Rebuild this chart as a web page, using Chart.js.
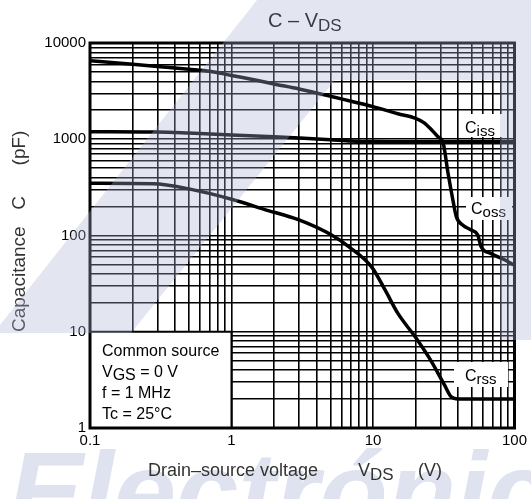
<!DOCTYPE html>
<html>
<head>
<meta charset="utf-8">
<script src="https://cdn.jsdelivr.net/npm/chart.js@4.4.1/dist/chart.umd.min.js"></script>
<style>
  html, body { margin: 0; padding: 0; background: #fff; }
  canvas { display: block; }
</style>
</head>
<body>
<canvas id="chart" width="531" height="499"></canvas>
<script>
var FONT = "'Liberation Sans', Arial, sans-serif";

// C - VDS curves
var cossVds = [0.1, 0.2, 0.3, 0.5, 0.7, 1, 1.5, 2, 3, 5, 7, 10, 15, 20, 23, 26, 28.8, 31.3, 33.9, 36.7, 38.8, 43.2, 49.4, 55, 58, 68, 85, 100];
var cossPf  = [6550, 6000, 5700, 5350, 5100, 4600, 4100, 3750, 3330, 2800, 2480, 2180, 1840, 1650, 1480, 1250, 1060, 920, 446, 234, 157, 128, 114, 101, 77, 65, 56, 49];

var cissVds = [0.1, 0.3, 0.5, 1, 2, 3, 5, 7, 10, 20, 50, 100];
var cissPf  = [1200, 1190, 1160, 1110, 1060, 1030, 990, 960, 945, 940, 940, 940];

var crssVds = [0.1, 0.28, 0.5, 1, 1.7, 3, 5.1, 6.7, 9.8, 12.2, 15, 19.8, 25.9, 32, 35.7, 40, 60, 100];
var crssPf  = [349, 345, 305, 238, 187, 145, 101, 77, 47, 27, 15.5, 8.9, 4.9, 2.8, 2.11, 2.0, 2.0, 2.0];

var xTickLabels = ['0.1', '1', '10', '100'];
var yTickLabels = ['1', '10', '100', '1000', '10000'];

// grid lines at 1..9 of every decade
function decadeGrid(loExp, hiExp) {
    var out = [];
    for (var e = loExp; e < hiExp; e++) {
        for (var m = 1; m < 10; m++) {
            out.push(Number((m * Math.pow(10, e)).toPrecision(3)));
        }
    }
    out.push(Math.pow(10, hiExp));
    return out;
}
var xGrid = decadeGrid(-1, 2);
var yGrid = decadeGrid(0, 4);

function labelFor(v, labels) {
    for (var i = 0; i < labels.length; i++) {
        var n = Number(labels[i]);
        if (Math.abs(v - n) < n * 1e-6) return labels[i];
    }
    return '';
}

function toPoints(xs, ys) {
    return xs.map(function(x, i) { return {x: x, y: ys[i]}; });
}

// text runs: [text, size, dy]
function drawRuns(ctx, x, y, runs) {
    runs.forEach(function(r) {
        ctx.font = r[1] + 'px ' + FONT;
        ctx.fillText(r[0], x, y + (r[2] || 0));
        x += ctx.measureText(r[0]).width;
    });
}

var decorations = {
    id: 'decorations',
    beforeDraw: function(chart) {
        var ctx = chart.ctx;
        ctx.save();
        ctx.fillStyle = '#fff';
        ctx.fillRect(0, 0, chart.width, chart.height);
        // watermark lettering along the bottom
        ctx.fillStyle = '#dfe2ef';
        ctx.font = 'italic bold 112px ' + FONT;
        ctx.textBaseline = 'alphabetic';
        ctx.fillText('Electrónica', 8, 530);
        ctx.restore();
    },
    afterDatasetsDraw: function(chart) {
        var ctx = chart.ctx, a = chart.chartArea;
        var xs = chart.scales.x, ys = chart.scales.y;
        ctx.save();
        ctx.textBaseline = 'alphabetic';
        ctx.fillStyle = '#000';

        // curve labels on white patches
        var tags = [
            {box: [461, 114, 41, 23], x: 465, y: 133, sub: 'iss'},
            {box: [466, 197, 46, 23], x: 471, y: 214, sub: 'oss'},
            {box: [454, 362, 54, 25], x: 465, y: 381, sub: 'rss'}
        ];
        tags.forEach(function(t) {
            ctx.fillStyle = '#fff';
            ctx.fillRect(t.box[0], t.box[1], t.box[2], t.box[3]);
            ctx.fillStyle = '#000';
            drawRuns(ctx, t.x, t.y, [['C', 16, 0], [t.sub, 15, 3]]);
        });

        // conditions box
        var bl = a.left, br = xs.getPixelForValue(1), bt = ys.getPixelForValue(10), bb = a.bottom;
        ctx.fillStyle = '#fff';
        ctx.fillRect(bl, bt, br - bl, bb - bt);
        ctx.strokeStyle = '#000';
        ctx.lineWidth = 2;
        ctx.strokeRect(bl, bt, br - bl, bb - bt);
        ctx.fillStyle = '#000';
        drawRuns(ctx, 102, 356, [['Common source', 16]]);
        drawRuns(ctx, 102, 377, [['V', 16], ['GS', 16, 3], [' = 0 V', 16]]);
        drawRuns(ctx, 102, 398, [['f = 1 MHz', 16]]);
        drawRuns(ctx, 102, 419, [['Tc = 25°C', 16]]);

        // heavy frame
        ctx.lineWidth = 3;
        ctx.strokeRect(a.left, a.top, a.right - a.left, a.bottom - a.top);
        ctx.restore();
    },
    afterDraw: function(chart) {
        var ctx = chart.ctx;
        ctx.save();
        ctx.textBaseline = 'alphabetic';

        // title
        ctx.fillStyle = '#000';
        drawRuns(ctx, 268, 27, [['C \u2013 V', 20], ['DS', 17, 4]]);

        // x axis title
        ctx.fillStyle = '#333';
        drawRuns(ctx, 148, 476, [['Drain\u2013source voltage', 18]]);
        drawRuns(ctx, 358, 476, [['V', 18], ['DS', 17, 4]]);
        drawRuns(ctx, 418, 476, [['(V)', 18]]);

        // y axis title, rotated
        ctx.translate(25, 0);
        ctx.rotate(-Math.PI / 2);
        ctx.font = '19px ' + FONT;
        ctx.textAlign = 'left';
        ctx.fillText('Capacitance', -332, 0);
        ctx.textAlign = 'center';
        ctx.fillText('C', -203, 0);
        ctx.fillText('(pF)', -148, 0);
        ctx.setTransform(1, 0, 0, 1, 0, 0);

        // translucent watermark band
        ctx.fillStyle = 'rgba(170, 176, 210, 0.33)';
        ctx.beginPath();
        ctx.moveTo(257, 0);
        ctx.lineTo(531, 0);
        ctx.lineTo(531, 340);
        ctx.lineTo(500, 340);
        ctx.lineTo(500, 80);
        ctx.lineTo(335, 80);
        ctx.lineTo(131, 333);
        ctx.lineTo(0, 333);
        ctx.lineTo(0, 325);
        ctx.closePath();
        ctx.fill();
        ctx.restore();
    }
};

Chart.defaults.font.family = FONT;
Chart.defaults.font.size = 15;
Chart.defaults.color = '#000';

var lineStyle = {
    borderColor: '#000',
    borderWidth: 3.5,
    pointRadius: 0,
    fill: false,
    cubicInterpolationMode: 'monotone'
};

var chart = new Chart(document.getElementById('chart').getContext('2d'), {
    type: 'line',
    data: {
        datasets: [
            Object.assign({label: 'Coss', data: toPoints(cossVds, cossPf)}, lineStyle),
            Object.assign({label: 'Ciss', data: toPoints(cissVds, cissPf)}, lineStyle),
            Object.assign({label: 'Crss', data: toPoints(crssVds, crssPf)}, lineStyle)
        ]
    },
    options: {
        responsive: false,
        animation: false,
        devicePixelRatio: 1,
        layout: { padding: { top: 43, right: 14, left: 0, bottom: 0 } },
        plugins: {
            legend: { display: false },
            tooltip: { enabled: false }
        },
        scales: {
            x: {
                type: 'logarithmic',
                min: 0.1,
                max: 100,
                afterBuildTicks: function(s) { s.ticks = xGrid.map(function(v) { return {value: v}; }); },
                afterFit: function(s) { s.height = 71; },
                ticks: {
                    autoSkip: false,
                    maxRotation: 0,
                    padding: 4,
                    callback: function(v) { return labelFor(v, xTickLabels); }
                },
                grid: { color: '#000', lineWidth: 1.6, drawTicks: false },
                border: { display: false }
            },
            y: {
                type: 'logarithmic',
                min: 1,
                max: 10000,
                afterBuildTicks: function(s) { s.ticks = yGrid.map(function(v) { return {value: v}; }); },
                afterFit: function(s) { s.width = 90; },
                ticks: {
                    autoSkip: false,
                    padding: 4,
                    callback: function(v) { return labelFor(v, yTickLabels); }
                },
                grid: { color: '#000', lineWidth: 1.6, drawTicks: false },
                border: { display: false }
            }
        }
    },
    plugins: [decorations]
});
</script>
</body>
</html>
